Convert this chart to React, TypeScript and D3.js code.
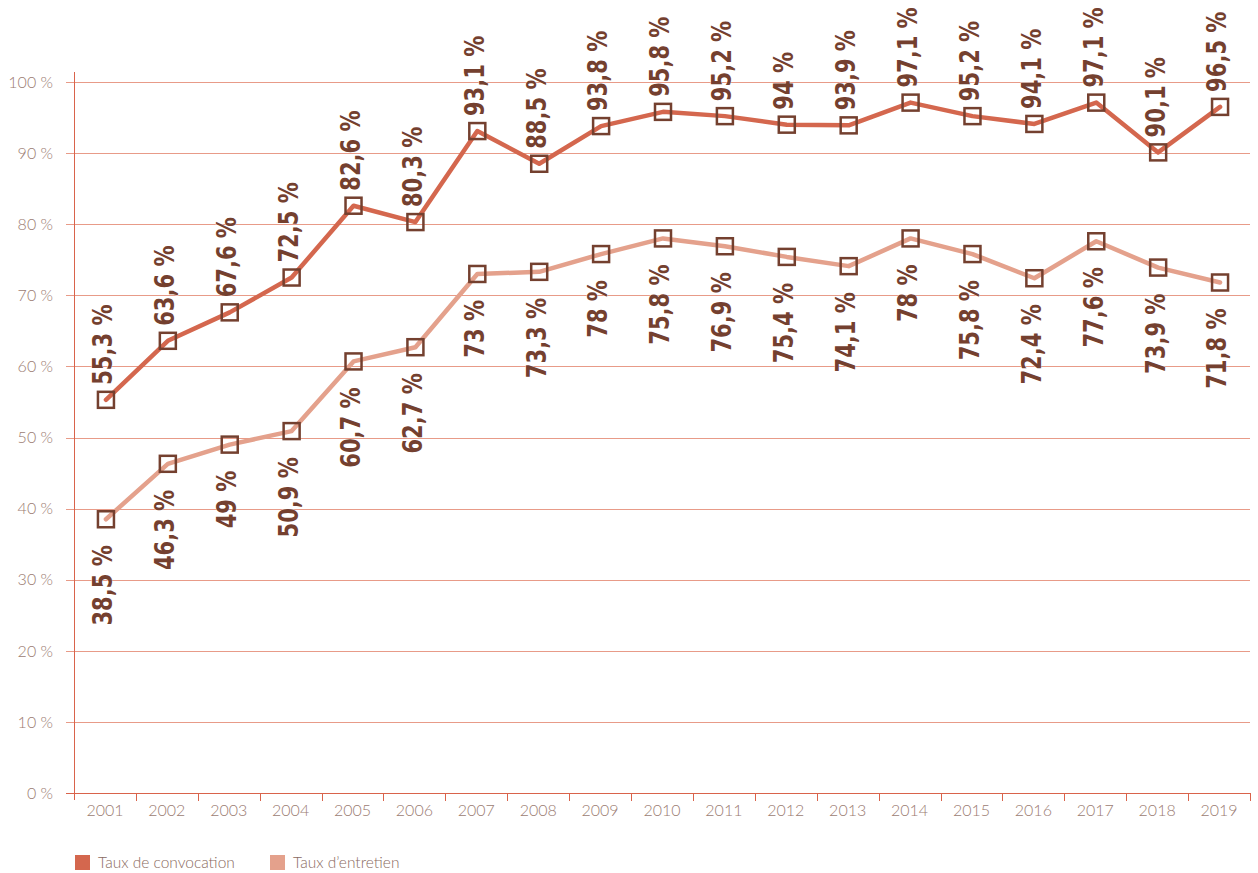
import { useEffect, useRef } from "react";
import * as d3 from "d3";

// Données
const annees = ["2001", "2002", "2003", "2004", "2005", "2006", "2007", "2008", "2009", "2010", "2011", "2012", "2013", "2014", "2015", "2016", "2017", "2018", "2019"];
const convocation = [55.3, 63.6, 67.6, 72.5, 82.6, 80.3, 93.1, 88.5, 93.8, 95.8, 95.2, 94, 93.9, 97.1, 95.2, 94.1, 97.1, 90.1, 96.5];
const entretien = [38.5, 46.3, 49, 50.9, 60.7, 62.7, 73, 73.3, 75.8, 78, 76.9, 75.4, 74.1, 78, 75.8, 72.4, 77.6, 73.9, 71.8];
// étiquettes telles qu'imprimées (2009 et 2010 inversées dans l'original)
const etiquettesEntretien = ["38,5 %", "46,3 %", "49 %", "50,9 %", "60,7 %", "62,7 %", "73 %", "73,3 %", "78 %", "75,8 %", "76,9 %", "75,4 %", "74,1 %", "78 %", "75,8 %", "72,4 %", "77,6 %", "73,9 %", "71,8 %"];
const ticksY = [0, 10, 20, 30, 40, 50, 60, 70, 80, 90, 100];
const series = ["Taux de convocation", "Taux d’entretien"];

const fmt = (v: number) => String(v).replace(".", ",") + " %";

const App = () => {
  const ref = useRef<SVGSVGElement | null>(null);

  useEffect(() => {
    document.body.style.margin = "0";
    if (!ref.current) return;
    const svg = d3.select(ref.current);
    svg.selectAll("*").remove();

    const x = d3.scaleBand<string>().domain(annees).range([74, 1250]).padding(0);
    const y = d3.scaleLinear().domain([0, 100]).range([793, 82]);
    const cx = (i: number) => (x(annees[i]) as number) + x.bandwidth() / 2 + 1;

    const couleurConv = "#d4674e";
    const couleurEntr = "#e4a18c";
    const brun = "#74402f";
    const grille = "#e89b88";
    const axe = "#d9634b";
    const texteAxe = "#9b7c72";
    const police = "'DejaVu Sans Condensed', 'DejaVu Sans', sans-serif";

    // grille horizontale
    svg.append("g")
      .selectAll("line")
      .data(ticksY.filter((t) => t > 0))
      .enter()
      .append("line")
      .attr("x1", 66)
      .attr("x2", 1250)
      .attr("y1", (d) => Math.round(y(d)) + 0.5)
      .attr("y2", (d) => Math.round(y(d)) + 0.5)
      .attr("stroke", grille)
      .attr("stroke-width", 1);

    // étiquettes axe Y
    svg.append("g")
      .selectAll("text")
      .data(ticksY)
      .enter()
      .append("text")
      .attr("x", 53)
      .attr("y", (d) => y(d))
      .attr("dy", "0.36em")
      .attr("text-anchor", "end")
      .style("font-family", "Lato, 'Open Sans', sans-serif")
      .style("font-weight", "300")
      .style("font-size", "16px")
      .style("fill", texteAxe)
      .text((d) => `${d} %`);

    // axes
    svg.append("line")
      .attr("x1", 74.5).attr("x2", 74.5)
      .attr("y1", 72).attr("y2", 800)
      .attr("stroke", axe).attr("stroke-width", 1);
    svg.append("line")
      .attr("x1", 66).attr("x2", 1250)
      .attr("y1", 793.5).attr("y2", 793.5)
      .attr("stroke", axe).attr("stroke-width", 1);

    // graduations X
    svg.append("g")
      .selectAll("line")
      .data(annees)
      .enter()
      .append("line")
      .attr("x1", (d) => Math.round((x(d) as number) + x.bandwidth()) + 0.5)
      .attr("x2", (d) => Math.round((x(d) as number) + x.bandwidth()) + 0.5)
      .attr("y1", 793)
      .attr("y2", 801)
      .attr("stroke", axe);

    svg.append("g")
      .selectAll("text")
      .data(annees)
      .enter()
      .append("text")
      .attr("x", (d) => (x(d) as number) + x.bandwidth() / 2)
      .attr("y", 816)
      .attr("text-anchor", "middle")
      .style("font-family", "Lato, 'Open Sans', sans-serif")
      .style("font-weight", "300")
      .style("font-size", "16px")
      .style("fill", texteAxe)
      .text((d) => d);

    const ligne = d3.line<number>()
      .x((d, i) => cx(i))
      .y((d) => y(d));

    const dessinerSerie = (valeurs: number[], couleur: string) => {
      svg.append("path")
        .datum(valeurs)
        .attr("fill", "none")
        .attr("stroke", couleur)
        .attr("stroke-width", 4.5)
        .attr("stroke-linejoin", "round")
        .attr("stroke-linecap", "round")
        .attr("d", ligne);

      svg.append("g")
        .selectAll("rect")
        .data(valeurs)
        .enter()
        .append("rect")
        .attr("x", (d, i) => cx(i) - 8)
        .attr("y", (d) => y(d) - 8)
        .attr("width", 16)
        .attr("height", 16)
        .attr("fill", "none")
        .attr("stroke", brun)
        .attr("stroke-width", 2.5);
    };

    dessinerSerie(entretien, couleurEntr);
    dessinerSerie(convocation, couleurConv);

    // étiquettes de valeurs (verticales, compressées)
    const etiquette = (xx: number, yy: number, txt: string, ancre: string) => {
      svg.append("text")
        .attr("transform", `translate(${xx},${yy}) rotate(-90) scale(0.9,1)`)
        .attr("dy", "0.36em")
        .attr("text-anchor", ancre)
        .style("font-family", police)
        .style("font-weight", "700")
        .style("font-size", "26px")
        .style("fill", brun)
        .style("stroke", "#fff")
        .style("stroke-width", 0.6)
        .style("paint-order", "stroke")
        .text(txt);
    };

    convocation.forEach((v, i) => etiquette(cx(i) - 3, y(v) - 15, fmt(v), "start"));
    entretien.forEach((v, i) => etiquette(cx(i) - 3, y(v) + 26, etiquettesEntretien[i], "end"));

    // légende
    const leg = svg.append("g");
    [couleurConv, couleurEntr].forEach((c, i) => {
      const lx = i === 0 ? 75 : 270;
      leg.append("rect")
        .attr("x", lx)
        .attr("y", 855)
        .attr("width", 15)
        .attr("height", 15)
        .attr("fill", c);
      leg.append("text")
        .attr("x", lx + 23)
        .attr("y", 868)
        .style("font-family", "Lato, 'Open Sans', sans-serif")
        .style("font-weight", "300")
        .style("font-size", "15.5px")
        .style("fill", "#8a6a60")
        .text(series[i]);
    });
  }, []);

  return <svg ref={ref} width={1258} height={873} style={{ display: "block" }} />;
};

export default App;
